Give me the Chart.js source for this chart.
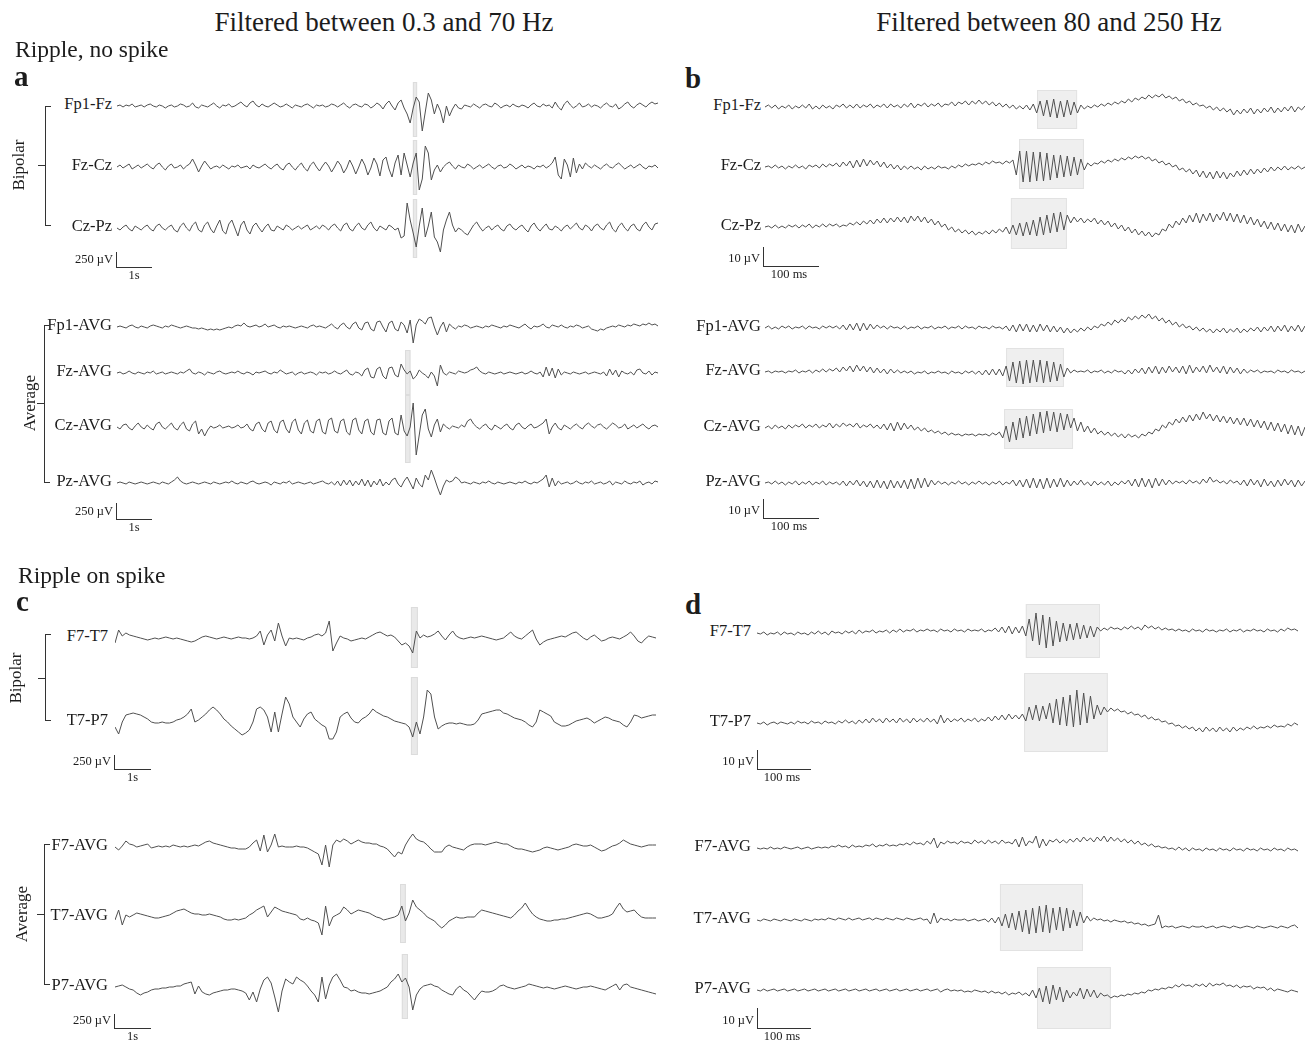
<!DOCTYPE html>
<html>
<head>
<meta charset="utf-8">
<script src="https://cdn.jsdelivr.net/npm/chart.js"></script>
<style>
  body { margin: 0; background: #fff; width: 1311px; height: 1042px; position: relative; overflow: hidden;
         font-family: "Liberation Serif", "DejaVu Serif", serif; color: #1c1c1c; }
  .t { position: absolute; white-space: nowrap; line-height: 1; }
  canvas { position: absolute; }
  .ln { position: absolute; background: #333; }
</style>
</head>
<body>
<script>
// === Panel a: 0.3-70 Hz, ripple without spike (amplitude in px-units, + = up) ===
const aFp1Fz = [
  0,1,-1,1,0,2,-1,0,1,-1, 1,2,0,-1,1,0,-2,0,1,-1, 0,2,1,-1,0,3,-1,-2,1,0,
  -1,1,3,0,-2,1,0,2,-1,0, 2,4,1,-1,3,5,1,-1,2,0, -1,1,3,1,-1,0,2,0,-2,1,
  0,-1,1,2,0,-2,1,0,1,-1, 0,2,1,-1,1,3,0,-2,1,2, 0,-1,2,1,-2,0,3,1,-3,2,
  5,0,-4,3,6,-2,-8,-17,-2,9, 4,-25,-6,13,6,-8,2,-5,-17,0, -10,-3,2,-2,-3,1,0,-1,2,0,
  -2,1,2,0,-1,3,1,-2,0,1, -1,2,0,-1,1,0,-2,1,3,0, -1,2,0,1,-2,4,-1,-4,2,5,
  1,-2,0,3,-1,0,2,-1,1,0, -2,1,3,0,-1,2,-3,-1,2,4, 0,-2,1,3,1,-1,2,4,2,3
];
const aFzCz = [
  0,2,-1,1,3,-2,0,2,-1,1, 3,0,-2,2,4,0,-3,1,3,-1, 0,2,-2,1,3,8,2,-5,1,6,
  2,-2,0,1,-1,2,0,-2,1,0, 2,-1,0,1,-2,2,0,-1,1,3, 0,-2,1,3,-1,-3,2,4,0,-3,
  1,4,-1,-4,2,5,0,-4,1,5, 1,-5,0,6,2,-6,-1,7,1,-7, 0,8,2,-8,-1,9,3,-9,7,10,
  -2,-10,4,12,-8,14,2,-10,4,14, -23,-12,21,14,-13,-3,2,-5,0,3, 5,1,-2,2,0,-1,3,1,-2,0,
  2,-1,1,3,0,-2,1,2,-1,0, 3,1,-2,0,2,-1,1,0,-2,1, 0,2,-1,1,4,10,-8,-12,8,2,
  -10,9,-6,3,-2,4,1,-1,2,0, -2,1,3,0,-1,2,4,1,-2,0, 2,-1,1,3,0,-2,1,0,2,-1
];
const aCzPz = [
  0,-2,1,3,-1,-3,2,0,-2,1, 3,-1,-3,2,4,0,-2,1,3,-2, -4,2,5,0,-3,3,6,-2,-4,3,
  6,-1,-5,2,8,-3,-6,4,8,0, -8,3,7,-2,-6,2,5,0,-4,1, 4,-2,-3,2,0,-2,3,1,-2,0,
  2,-1,1,3,-2,0,2,-1,3,1, -2,2,4,0,-3,3,5,-1,-3,2, 5,0,-2,3,6,0,-3,2,0,-2,
  3,1,-2,0,-10,-8,25,8,-5,-19, 2,20,-9,2,16,-9,-14,-24,-2,8, 16,3,-4,0,-2,-5,-7,-2,3,6,
  1,-3,0,2,-2,1,3,-1,-3,2, 4,0,-2,1,3,-1,-4,2,5,0, -3,1,4,-1,-2,2,0,-3,1,3,
  -1,2,5,0,-2,3,1,-3,2,4, 0,-2,3,6,-1,-4,2,5,0,-3, 2,4,-1,-3,3,6,1,-2,4,5
];
const aFp1Avg = [
  0,1,0,-1,1,2,0,-1,1,0, -1,1,2,1,0,-1,1,0,2,1, 0,-1,0,1,0,-1,-1,-2,-1,-2,
  -3,-2,-3,-2,-3,-2,-1,0,-1,1, 2,1,4,1,0,1,2,0,1,3, 0,1,2,0,-1,1,0,1,0,-1,
  0,1,0,-1,1,2,0,1,0,-1, 1,3,0,-2,2,4,0,-2,3,5, -1,-3,4,5,-2,-4,5,6,0,-5,
  4,6,-2,-4,5,2,-6,7,-16,2, 8,6,3,9,10,0,-8,0,5,-5, 3,0,-2,1,0,2,1,-1,0,1,
  0,-1,1,0,2,1,0,-1,1,0, 2,1,0,-1,1,3,0,-2,1,0, 1,3,0,-1,2,1,0,2,0,-1,
  1,0,2,1,-1,0,1,-2,-3,-4, -2,-3,-1,0,1,0,2,1,0,2, 1,3,2,1,3,2,4,2,3,1
];
const aFzAvg = [
  0,1,-1,0,2,0,-1,1,0,-1, 1,0,2,-1,0,1,-1,0,1,0, -1,1,0,2,4,0,-1,1,0,-2,
  1,0,-1,1,2,0,-1,0,1,0, 2,0,-1,1,0,-2,1,0,1,2, 0,-1,1,0,3,1,-1,0,1,-2,
  0,1,-1,0,1,0,-2,1,0,1, -1,0,2,0,-1,1,3,-1,-2,1, 0,-3,3,5,-4,-5,4,6,-3,-6,
  5,6,-2,-4,9,3,-1,2,-6,-3, 3,0,-2,-5,1,-3,-13,8,0,-2, 1,0,-1,2,1,0,1,3,4,6,
  2,0,-1,1,0,-1,0,1,-1,0, 1,0,-1,0,1,-1,0,2,0,-1, 1,-4,6,-3,5,-5,4,-2,1,0,
  -1,1,0,-1,0,1,-1,0,1,0, -1,1,-3,4,-2,3,-4,2,0,-1, 1,-2,3,4,0,-1,2,-2,1,0
];
const aCzAvg = [
  0,-2,2,3,-1,-3,1,4,0,-2, 2,-1,-3,3,5,0,-2,1,4,-1, -3,2,5,-2,-4,3,6,-7,-2,-9,
  -3,1,-1,0,2,-1,0,1,-1,0, 2,-1,0,3,-2,-4,3,5,-2,-5, 4,6,-3,-6,5,7,-2,-6,5,8,
  -3,-7,4,7,-4,-6,6,8,-5,-7, 7,9,-4,-6,6,8,-5,-8,7,9, -3,-7,6,8,-5,-8,7,8,-6,-8,
  6,9,-6,-8,12,-4,-9,0,24,-28, -8,12,18,-2,-10,2,8,-5,3,0, -2,1,0,-1,2,0,6,8,3,0,
  -2,1,3,-1,-3,2,0,-2,1,3, -1,-3,2,4,0,-2,1,3,-1,0, 2,4,8,-7,0,4,-1,-3,2,0,
  -2,1,3,0,-2,2,4,1,-1,2, 3,0,-2,1,4,2,-1,0,3,-2, 0,2,-1,1,3,0,-2,1,2,0
];
const aPzAvg = [
  0,1,0,-1,1,0,-1,0,1,0, -1,0,1,0,-1,1,0,-1,1,3, 6,2,0,-1,0,1,0,-1,0,1,
  0,-1,1,0,-1,0,1,0,2,0, -1,1,0,-1,1,2,0,-1,0,1, 0,-2,1,0,-1,1,0,2,-1,0,
  1,0,-1,0,1,-1,0,1,2,0, -1,1,-2,2,-3,3,-2,3,-3,2, -2,4,-3,3,-4,2,-2,4,-3,1,
  -2,3,5,-1,-4,2,6,0,-6,5, -1,-4,8,3,13,5,-4,-12,-3,3, 1,2,6,4,0,1,0,-1,1,0,
  -1,1,0,2,0,-1,1,0,-1,0, 1,0,-1,1,0,2,0,-1,1,0, 2,4,8,-4,5,-3,2,-1,0,1,
  -1,0,2,0,-1,1,0,2,-1,0, 1,-1,0,2,-2,1,0,-1,2,0, -1,1,0,2,-2,0,1,-1,2,1
];

// === Panel b: 80-250 Hz, ripple without spike ===
const bFp1Fz = [
  0,2,-1,2,-2,1,-1,2,-2,1, -1,2,-1,3,-2,1,-2,2,-1,1, -2,2,0,3,-1,2,-1,3,-1,2,
  0,3,-1,2,0,3,-1,3,0,2, -1,3,0,4,-1,3,1,4,0,3, 1,4,0,3,2,5,1,5,3,6,
  2,6,3,7,3,6,2,5,1,4, 0,3,-1,2,-2,1,-2,2,-3,3, -6,6,-9,7,-10,8,-11,6,-10,7,
  -8,5,-6,2,-2,1,-1,2,0,3, 1,4,2,5,3,6,4,8,5,9, 7,10,8,12,9,12,10,13,9,11,
  8,10,6,8,4,6,2,4,1,2, -1,1,-3,0,-4,-1,-5,-2,-8,-3, -7,-2,-6,-1,-7,-2,-6,-1,-5,0,
  -6,-1,-5,0,-4,1,-5,0,-3,1
];
const bFzCz = [
  0,1,-1,2,-1,1,-2,1,-1,2, -1,1,-2,2,0,2,-1,3,0,3, 1,4,0,5,1,6,-1,7,0,8,
  1,7,2,6,0,5,-1,3,-2,2, -3,1,-2,1,-2,0,-3,1,-2,0, -2,1,-1,0,-2,1,-1,2,0,3,
  1,3,2,4,2,5,3,6,4,5, 3,6,4,7,-8,16,-15,16,-15,15, -14,15,-14,14,-13,12,-11,12,-10,11,
  -9,10,-8,8,-3,4,1,4,3,6, 4,7,5,8,6,9,7,10,8,11, 9,11,8,10,6,8,4,6,2,4,
  0,2,-3,-1,-5,-2,-7,-3,-10,-4, -11,-5,-12,-4,-11,-5,-12,-6,-10,-4, -9,-3,-8,-2,-7,-2,-6,-1,-5,0,
  -4,0,-3,1,-3,0,-2,1,-2,0
];
const bCzPz = [
  0,1,-1,2,-1,1,-1,2,0,2, -1,2,0,3,-1,2,0,3,0,3, 1,3,0,2,1,4,2,5,2,6,
  3,7,3,8,4,9,4,9,5,10, 5,10,4,11,6,11,5,10,4,8, 2,6,0,3,-3,0,-5,-2,-6,-3,
  -7,-4,-8,-5,-7,-4,-7,-3,-6,-2, -5,0,-7,2,-8,4,-9,5,-8,7, -9,10,-8,12,-6,14,-5,15,-3,12,
  4,10,5,9,4,8,5,9,3,7, 2,6,0,4,-2,2,-4,0,-6,-2, -8,-4,-9,-5,-10,-6,-8,-2,-4,3,
  -1,6,2,9,4,12,5,14,4,13, 6,14,5,13,7,15,6,14,5,13, 4,12,3,10,2,8,0,6,-2,5,
  -3,4,-4,3,-5,2,-6,3,-5,1
];
const bFp1Avg = [
  0,2,-1,1,-1,2,0,2,-1,1, 0,2,-1,2,0,1,-1,2,0,2, 0,2,-1,3,-2,4,-2,5,-3,5,
  -2,4,-1,3,0,2,-1,2,0,1, -1,2,-1,1,0,2,-1,1,0,2, -1,1,0,2,-1,1,0,2,-1,2,
  0,1,-1,2,0,1,-1,2,0,1, -1,2,-3,3,-4,4,-3,4,-4,3, -4,4,-3,3,-4,2,-4,1,-5,0,
  -5,-1,-4,0,-3,1,-2,2,0,4, 2,6,3,8,5,9,6,11,8,12, 9,13,10,14,9,12,7,10,5,8,
  3,6,1,4,0,2,-2,1,-3,0, -4,-1,-5,-1,-4,0,-5,-1,-4,0, -5,-1,-4,0,-3,1,-4,1,-3,2,
  -4,2,-3,3,-4,2,-3,3,-4,2
];
const bFzAvg = [
  0,1,-1,1,0,1,-1,1,0,2, -1,1,0,2,-1,2,0,3,0,3, 1,4,0,5,1,6,0,7,1,6,
  0,5,-1,4,-1,3,-2,3,-1,2, -1,1,-1,1,-2,0,-1,1,-2,0, -1,1,-1,0,-2,1,-1,0,-2,1,
  -1,1,-2,1,-3,2,-3,3,-3,3, -4,6,-9,10,-11,11,-12,12,-11,12, -10,12,-11,11,-10,10,-9,8,-5,4,
  -1,2,0,1,0,2,-1,1,0,2, -1,1,-1,2,0,1,-2,2,-2,3, -1,4,-2,5,-1,6,-2,5,-1,6,
  0,5,-1,6,-2,7,-1,5,0,6, -1,7,0,5,-1,6,-2,5,-1,4, -2,3,-1,2,0,2,-1,1,0,1,
  -1,2,0,1,-1,2,0,1,-1,1
];
const bCzAvg = [
  0,2,-1,3,0,2,-1,3,0,3, 1,4,0,3,1,4,0,3,1,5, 0,4,1,5,2,4,1,5,0,3,
  1,4,0,3,-1,4,-2,5,-3,6, -2,5,-1,3,-2,1,-3,0,-4,-2, -5,-3,-6,-4,-7,-5,-7,-6,-8,-6,
  -7,-6,-8,-6,-7,-6,-8,-5,-7,-4, -10,2,-14,6,-12,10,-10,12,-8,14, -6,16,-5,17,-3,16,-4,15,-2,14,
  0,10,-3,6,-4,2,-5,0,-6,-3, -7,-4,-8,-5,-9,-6,-10,-6,-9,-7, -10,-6,-8,-4,-6,-1,-3,3,0,6,
  3,9,5,11,6,13,7,14,8,16, 9,14,7,13,6,12,5,11,4,10, 3,10,2,9,1,8,0,7,-2,6,
  -3,5,-4,4,-6,3,-7,2,-8,1
];
const bPzAvg = [
  0,1,-1,2,-1,1,-2,1,-1,2, -2,1,-1,2,-2,1,-1,2,-2,1, -1,1,-2,2,-3,2,-2,3,-3,2,
  -4,2,-5,3,-5,2,-6,3,-5,2, -5,3,-6,4,-6,5,-5,5,-4,3, -2,2,-1,1,-2,1,-1,2,-1,1,
  -2,1,-1,2,-1,1,-2,1,-1,2, -2,1,-1,3,-3,3,-4,4,-5,5, -5,4,-6,5,-5,4,-4,5,-4,3,
  -3,2,-2,3,-2,1,-3,2,-2,1, -2,2,-3,1,-2,2,-1,3,-3,4, -4,5,-4,4,-5,5,-3,4,-2,3,
  -1,2,0,2,-1,3,0,2,-1,4, 0,6,1,3,0,2,-1,3,0,2, -2,3,-3,4,-2,3,-4,4,-3,2,
  -4,3,-3,4,-2,3,-4,3,-3,2
];

// === Panel c: 0.3-70 Hz, ripple on spike ===
const cF7T7 = [
  -5,8,2,5,3,2,1,0,-1,-2, -1,0,-1,0,1,0,-1,0,-1,-2, -3,-4,-3,-1,1,2,1,0,-1,0,
  1,0,-1,0,1,0,0,-1,0,2, 7,-7,3,8,-3,15,2,-8,0,-1, 0,-1,-2,0,1,3,4,2,5,17,
  -13,-5,2,0,-1,-3,-2,-1,0,-1, 1,3,5,6,4,2,3,1,-3,-7, -5,-8,-15,7,0,3,1,2,4,7,
  2,-2,3,7,2,0,-1,0,1,0, 1,2,1,0,-1,-2,-1,0,3,6, 2,0,-1,2,5,8,-1,-7,-4,-2,
  -1,0,1,2,1,3,5,6,3,0, -2,1,3,0,-3,-2,0,1,0,-1, 1,3,6,2,-3,-5,-1,2,1,0
];
const cT7P7 = [
  -5,-12,0,7,8,9,8,7,5,3, 0,-1,-1,0,-1,-1,0,2,3,5, 8,13,0,2,5,8,12,15,12,8,
  3,0,-4,-7,-10,-13,-11,-8,0,13, 15,12,5,-10,10,-10,8,25,18,5, 0,-5,3,8,10,3,0,-3,-5,-17,
  -17,-10,5,8,10,4,0,-1,3,5, 8,13,10,8,6,5,3,1,0,-1, -2,-5,-15,0,-12,5,32,28,5,-7,
  -4,-2,-1,-1,-2,-1,-2,-3,-3,-2, 2,8,9,10,11,12,12,9,8,6, 4,3,2,0,-3,-5,0,12,10,8,
  6,0,-2,-4,-4,-3,-1,1,2,3, 4,2,-1,1,3,5,4,2,1,0, -3,-5,0,7,6,4,5,6,7,7
];
const cF7Avg = [
  0,-3,1,6,3,2,0,1,2,3, -1,0,1,0,1,0,2,1,0,1, 0,1,2,1,3,5,6,4,3,2,
  1,0,-1,-1,-2,-2,-2,0,4,7, -4,12,-5,2,13,0,1,0,0,0, 1,0,0,-1,-3,-5,-7,-18,2,-20,
  2,7,5,8,6,3,5,7,5,4, 4,3,3,1,0,-2,-6,-10,-5,-7, 2,8,13,8,6,5,2,-2,-5,-5,
  -5,0,2,0,-1,-2,-3,0,2,3, 3,3,2,3,4,5,4,3,3,1, -1,-2,-2,-3,-4,-5,-4,-3,-1,0,
  -1,-2,-3,-2,-1,0,2,3,2,1, 1,2,0,-2,-4,-3,-1,1,2,4, 7,5,3,2,1,0,1,2,2,2
];
const cT7Avg = [
  -3,7,-8,2,0,2,4,3,2,1, 0,-1,-1,0,1,2,4,6,7,8, 6,4,3,3,2,2,3,2,1,0,
  -2,-3,-3,-2,-3,-2,-1,2,4,7, 9,11,0,5,10,8,6,5,4,3, 2,-2,-3,-1,-3,-4,-6,-18,11,-9,
  0,2,4,10,7,3,5,7,6,5, 4,2,0,-1,-3,-2,-1,0,2,11, -4,4,17,10,7,4,0,-2,-4,-8,
  -11,-8,-4,-2,0,-1,-1,0,0,0, 4,7,6,5,4,3,2,1,0,-1, 2,6,9,14,8,3,0,-2,-3,-4,
  -4,-3,-3,-2,-2,-1,0,1,2,3, 4,3,1,-1,-1,0,1,3,9,14, 8,5,6,7,3,0,-1,-1,-1,-1
];
const cP7Avg = [
  0,1,2,0,-2,-3,-6,-8,-6,-5, -3,-2,-2,-1,-1,0,0,1,1,3, 4,5,-7,1,-5,-7,-8,-6,-5,-4,
  -3,-3,-2,-2,-3,-4,-6,-13,-5,-15, -2,7,10,4,-10,-25,-4,8,5,3, 10,7,5,1,-4,-8,-15,10,-12,2,
  10,13,7,0,-1,-4,-3,-5,-6,-6, -7,-6,-5,-4,-2,0,5,8,13,5, 9,0,-23,-8,-2,1,2,3,1,0,
  -3,-5,-7,-8,-2,1,-3,-5,-9,-13, -8,-4,-5,-5,-4,-2,1,2,0,-1, -2,-1,0,1,3,2,1,0,-1,0,
  -1,-2,-1,0,1,0,-1,-2,-1,0, 0,1,0,-1,-2,-3,-1,1,3,-3, 2,3,0,-1,-2,-3,-4,-5,-6,-7
];

// === Panel d: 80-250 Hz, ripple on spike ===
const dF7T7 = [
  0,-1,1,-2,0,-1,1,-2,1,-1, 0,-2,1,-1,0,-2,1,-1,2,-1, 1,-2,2,0,1,-1,2,0,2,-1,
  3,0,2,1,3,0,2,1,3,0, 3,1,4,1,3,2,4,1,3,2, 4,2,3,1,4,2,3,1,4,2,
  3,1,4,2,3,2,4,1,3,2, 5,1,6,0,7,-1,6,0,7,-3, 14,-8,20,-12,18,-15,16,-13,12,-9,
  10,-8,9,-7,10,-6,8,-5,7,-4, 6,2,5,3,6,4,5,3,6,4, 7,4,6,3,8,5,7,4,6,3,
  5,3,4,2,4,2,3,1,4,2, 3,1,4,2,3,1,3,2,4,1, 3,2,4,1,3,2,4,2,3,1,
  4,2,3,1,4,2,5,3,4,2
];
const dT7P7 = [
  0,-1,1,-2,0,1,-1,1,0,-1, 1,-1,2,0,1,-1,2,0,1,-1, 2,0,1,-1,2,0,3,0,2,-1,
  3,0,4,0,5,1,4,0,5,1, 4,0,5,1,4,0,5,1,4,1, 5,1,4,-1,8,0,5,1,4,2,
  5,1,4,2,5,1,4,2,6,2, 7,3,8,3,9,4,8,4,9,2, 16,3,18,2,17,4,20,0,24,-2,
  26,-3,28,-4,33,-2,30,0,27,4, 18,8,16,11,15,12,14,11,12,9, 11,8,9,6,8,4,6,3,4,1,
  2,-1,0,-3,-2,-5,-3,-6,-4,-8, -5,-9,-4,-8,-5,-9,-4,-8,-5,-9, -4,-8,-5,-7,-4,-6,-3,-6,-4,-5,
  -3,-5,-2,-4,-3,-4,-1,-3,0,-2
];
const dF7Avg = [
  0,-1,0,-1,1,-1,0,-1,1,0, -1,0,1,-1,0,1,-1,0,1,0, 1,0,2,1,3,1,2,0,3,1,
  2,1,3,2,4,1,3,2,4,2, 3,2,4,3,5,3,6,4,5,3, 7,4,10,0,6,4,7,5,6,4,
  7,5,6,4,8,5,7,4,8,5, 7,4,8,5,6,4,9,1,11,2, 7,5,12,0,9,2,8,6,9,5,
  8,5,9,6,10,6,11,7,10,6, 11,7,12,6,11,7,10,6,9,5, 8,4,7,3,5,2,4,1,2,0,
  1,-1,0,-2,1,-2,0,-3,0,-2, -1,-3,0,-2,-1,-3,0,-2,-1,-3, 0,-2,-1,-3,0,-2,-1,-3,0,-2,
  -1,-3,0,-2,-1,-3,0,-2,-1,-3
];
const dT7Avg = [
  0,-1,1,0,-1,1,0,-1,1,0, -1,1,0,-1,1,0,-1,1,0,1, 0,2,1,0,2,1,0,2,0,1,
  2,0,1,2,0,2,1,0,2,1, 0,2,1,0,2,1,0,1,2,0, 1,-4,7,-3,2,0,1,-1,1,0,
  0,1,-1,0,1,-1,0,1,-2,2, -3,3,-6,6,-8,7,-10,9,-12,10, -14,12,-13,14,-12,15,-13,12,-10,13,
  -11,12,-8,10,-6,8,-3,4,-1,2, 0,1,-1,0,-2,0,-1,-2,-1,-3, -2,-4,-3,-5,-4,-6,-5,-4,5,-8,
  -6,-7,-6,-8,-7,-6,-7,-8,-6,-7, -7,-6,-8,-7,-6,-8,-7,-6,-7,-8, -6,-7,-8,-7,-6,-7,-8,-6,-7,-8,
  -7,-6,-7,-8,-6,-7,-8,-6,-5,-8
];
const dP7Avg = [
  0,-1,1,-1,0,1,-1,0,1,-1, 0,1,-1,0,1,-1,0,1,-1,0, 1,-1,0,1,-1,0,1,-1,0,1,
  -1,0,1,-1,0,1,-1,0,1,-1, 0,1,-1,0,1,-1,0,1,-1,0, 1,-1,0,1,-2,0,1,-1,0,-1,
  0,-2,-1,-2,0,-1,-2,-1,-3,-1, -3,-2,-4,-2,-5,-3,-4,-2,-5,-3, -6,0,-8,2,-12,4,-14,5,-10,3,
  -12,0,-8,-2,-6,2,-9,1,-7,0, -8,-3,-6,-5,-8,-6,-7,-5,-6,-4, -5,-3,-4,-2,-3,0,-1,1,0,2,
  1,3,2,5,3,6,4,5,3,6, 4,6,3,7,4,6,5,7,4,5, 3,5,2,4,3,4,1,3,2,3,
  0,2,-1,1,0,-1,-2,0,-1,-2
];

// === Layout: one row per trace (x0/x1/y in page px, win = highlighted samples) ===
const panelX = { a: [117, 658, 5], b: [765, 1305, 4], c: [115, 656, 7], d: [757, 1298, 6] };
const traces = [
  { p: "a", label: "Fp1-Fz", data: aFp1Fz, y: 106, win: [97.9, 99.3], ext: [24, -31], thin: true },
  { p: "a", label: "Fz-Cz", data: aFzCz, y: 167, win: [97.9, 99.3], ext: [27, -28], thin: true },
  { p: "a", label: "Cz-Pz", data: aCzPz, y: 228, win: [97.9, 99.3], ext: [29, -30], thin: true },
  { p: "a", label: "Fp1-AVG", data: aFp1Avg, y: 327 },
  { p: "a", label: "Fz-AVG", data: aFzAvg, y: 373, win: [95.3, 97.1], ext: [23, -22], thin: true },
  { p: "a", label: "Cz-AVG", data: aCzAvg, y: 427, win: [95.3, 97.1], ext: [32, -36], thin: true },
  { p: "a", label: "Pz-AVG", data: aPzAvg, y: 483 },
  { p: "b", label: "Fp1-Fz", data: bFp1Fz, y: 107, win: [80.1, 91.9], ext: [17, -22] },
  { p: "b", label: "Fz-Cz", data: bFzCz, y: 167, win: [74.8, 93.9], ext: [28, -22] },
  { p: "b", label: "Cz-Pz", data: bCzPz, y: 227, win: [72.4, 88.9], ext: [29, -22] },
  { p: "b", label: "Fp1-AVG", data: bFp1Avg, y: 328 },
  { p: "b", label: "Fz-AVG", data: bFzAvg, y: 372, win: [71, 88], ext: [24, -15] },
  { p: "b", label: "Cz-AVG", data: bCzAvg, y: 428, win: [70.4, 90.7], ext: [19, -21] },
  { p: "b", label: "Pz-AVG", data: bPzAvg, y: 483 },
  { p: "c", label: "F7-T7", data: cF7T7, y: 638, win: [81.5, 83.4], ext: [31, -30], thin: true },
  { p: "c", label: "T7-P7", data: cT7P7, y: 722, win: [81.5, 83.4], ext: [45, -33], thin: true },
  { p: "c", label: "F7-AVG", data: cF7Avg, y: 847 },
  { p: "c", label: "T7-AVG", data: cT7Avg, y: 917, win: [78.5, 80.1], ext: [33, -26], thin: true },
  { p: "c", label: "P7-AVG", data: cP7Avg, y: 987, win: [79, 80.7], ext: [33, -32], thin: true },
  { p: "d", label: "F7-T7", data: dF7T7, y: 633, win: [79, 100.8], ext: [29, -25] },
  { p: "d", label: "T7-P7", data: dT7P7, y: 723, win: [78.5, 103.1], ext: [50, -29] },
  { p: "d", label: "F7-AVG", data: dF7Avg, y: 848 },
  { p: "d", label: "T7-AVG", data: dT7Avg, y: 920, win: [71.4, 95.8], ext: [36, -31] },
  { p: "d", label: "P7-AVG", data: dP7Avg, y: 990, win: [82.3, 104], ext: [23, -39] },
];

// === Shaded ripple window, placed through the chart's own scales ===
const rippleBox = {
  id: "rippleBox",
  beforeDatasetsDraw(chart, args, opts) {
    if (!opts || !opts.win) return;
    const { ctx, scales: { x, y } } = chart;
    const l = x.getPixelForValue(opts.win[0]), r = x.getPixelForValue(opts.win[1]);
    const t = y.getPixelForValue(opts.ext[0]), b = y.getPixelForValue(opts.ext[1]);
    ctx.save();
    ctx.fillStyle = opts.thin ? "#e9e9e9" : "#efefef";
    ctx.fillRect(l, t, r - l, b - t);
    ctx.strokeStyle = opts.thin ? "#dcdcdc" : "#e2e2e2";
    ctx.lineWidth = 1;
    ctx.strokeRect(l + 0.5, t + 0.5, r - l - 1, b - t - 1);
    ctx.restore();
  },
};
Chart.register(rippleBox);

const HALF = 60;
const W = 1311;

function text(str, css, size, baseline) {
  const d = document.createElement("div");
  d.className = "t";
  d.textContent = str;
  d.style.fontSize = size + "px";
  d.style.top = (baseline - 0.838 * size) + "px";
  Object.assign(d.style, css);
  document.body.appendChild(d);
  return d;
}
function line(x, y, w, h) {
  const d = document.createElement("div");
  d.className = "ln";
  Object.assign(d.style, { left: x + "px", top: y + "px", width: w + "px", height: h + "px" });
  document.body.appendChild(d);
}

// === Traces ===
traces.forEach((t) => {
  const [x0, x1, gap] = panelX[t.p];
  const w = x1 - x0;
  const cv = document.createElement("canvas");
  cv.width = w;
  cv.height = HALF * 2;
  cv.style.left = x0 + "px";
  cv.style.top = (t.y - HALF) + "px";
  cv.style.width = w + "px";
  cv.style.height = HALF * 2 + "px";
  document.body.appendChild(cv);
  new Chart(cv, {
    type: "line",
    data: {
      labels: t.data.map((_, i) => i),
      datasets: [{ data: t.data, borderColor: "#505050", borderWidth: 1, pointRadius: 0, tension: 0 }],
    },
    options: {
      responsive: false,
      animation: false,
      events: [],
      layout: { padding: 0 },
      plugins: {
        legend: { display: false },
        tooltip: { enabled: false },
        rippleBox: t.win ? { win: t.win, ext: t.ext, thin: !!t.thin } : false,
      },
      scales: {
        x: { type: "linear", display: false, min: 0, max: t.data.length - 1 },
        y: { display: false, min: -HALF, max: HALF },
      },
    },
  });
  text(t.label, { right: (W - (x0 - gap)) + "px" }, 16.5, t.y + 4);
});

// === Titles and panel letters ===
text("Filtered between 0.3 and 70 Hz", { left: "384px", transform: "translateX(-50%)" }, 27, 32);
text("Filtered between 80 and 250 Hz", { left: "1049px", transform: "translateX(-50%)" }, 27, 32);
text("Ripple, no spike", { left: "15px" }, 23.5, 58);
text("Ripple on spike", { left: "18px" }, 23.5, 584);
[["a", 14, 86], ["b", 685, 88], ["c", 16, 611], ["d", 685, 614]].forEach(([s, x, b]) => {
  text(s, { left: x + "px", fontWeight: "bold" }, 29, b);
});

// === Montage brackets ===
const brackets = [
  { x: 45, top: 106, bot: 225, mid: 165, name: "Bipolar", tx: 18 },
  { x: 44, top: 325, bot: 482, mid: 403, name: "Average", tx: 29 },
  { x: 45, top: 634, bot: 720, mid: 678, name: "Bipolar", tx: 15 },
  { x: 44, top: 844, bot: 984, mid: 914, name: "Average", tx: 21 },
];
brackets.forEach((b) => {
  line(b.x, b.top, 1, b.bot - b.top + 1);
  line(b.x, b.top, 6, 1);
  line(b.x, b.bot, 6, 1);
  line(b.x - 7, b.mid, 7, 1);
  const d = text(b.name, { left: b.tx + "px", transform: "translate(-50%, -50%) rotate(-90deg)" }, 17, 0);
  d.style.top = b.mid + "px";
});

// === Scale bars ===
const bars = [
  { x: 116, top: 252, bot: 267, r: 152, amp: "250 µV", time: "1s" },
  { x: 116, top: 503, bot: 519, r: 152, amp: "250 µV", time: "1s" },
  { x: 763, top: 247, bot: 266, r: 819, amp: "10 µV", time: "100 ms" },
  { x: 763, top: 499, bot: 518, r: 819, amp: "10 µV", time: "100 ms" },
  { x: 114, top: 755, bot: 769, r: 151, amp: "250 µV", time: "1s" },
  { x: 114, top: 1014, bot: 1028, r: 151, amp: "250 µV", time: "1s" },
  { x: 757, top: 750, bot: 769, r: 811, amp: "10 µV", time: "100 ms" },
  { x: 757, top: 1008, bot: 1028, r: 811, amp: "10 µV", time: "100 ms" },
];
bars.forEach((s) => {
  line(s.x, s.top, 1, s.bot - s.top + 1);
  line(s.x, s.bot, s.r - s.x, 1);
  text(s.amp, { right: (W - (s.x - 3)) + "px" }, 12.5, s.bot - 4);
  text(s.time, { left: (s.x + (s.r - s.x) * 0.5 - (s.time === "1s" ? 0 : 2)) + "px", transform: "translateX(-50%)" }, 12.5, s.bot + 12);
});
</script>
</body>
</html>
